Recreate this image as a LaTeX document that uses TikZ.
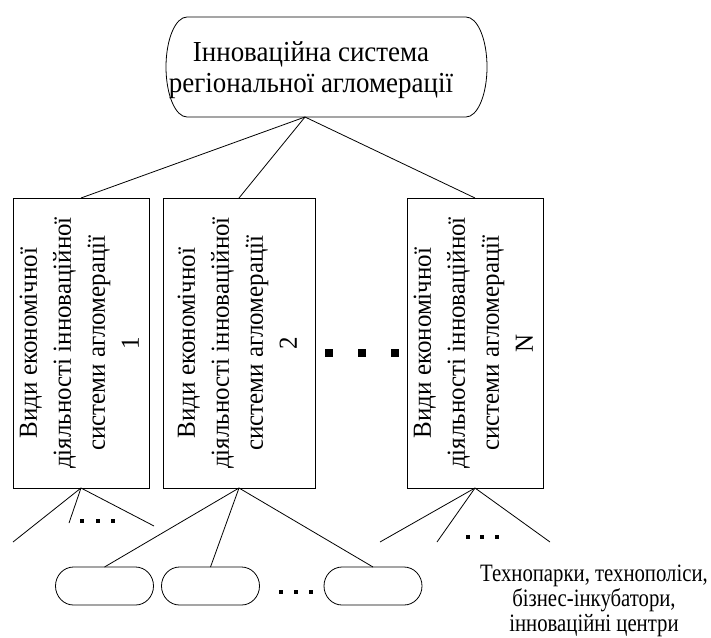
\documentclass[tikz,border=0pt]{standalone}
\usepackage{fontspec}
\setmainfont{Liberation Serif}
\newfontfamily\topfont[FakeStretch=0.93]{Liberation Serif}
\newfontfamily\boxfont[FakeStretch=0.96]{Liberation Serif}
\newfontfamily\labfont[FakeStretch=0.83]{Liberation Serif}
\usepackage{graphicx}
\newcommand\termdraw[3]{\draw[conn] ([xshift=#2]#1.north west) -- ([xshift=-#2]#1.north east) arc[start angle=90,end angle=-90,x radius=#2,y radius=#3] -- ([xshift=#2]#1.south west) arc[start angle=270,end angle=90,x radius=#2,y radius=#3] -- cycle;}
\newcommand\sqdot[3]{\fill ([xshift=-#3,yshift=-#3]#1,#2) rectangle ([xshift=#3,yshift=#3]#1,#2);}
\begin{document}
\begin{tikzpicture}[x=1pt,y=-1pt,
  every node/.style={inner sep=0pt, outer sep=0pt},
  conn/.style={line width=0.8pt, black},
  boxnode/.style={draw, line width=0.8pt, minimum width=#1, minimum height=290pt, font=\boxfont\fontsize{26}{34}\selectfont},
  topshape/.style={minimum width=321pt, minimum height=100pt},
  toptext/.style={align=center, font=\topfont\fontsize{29}{31}\selectfont},
  smallterm/.style={minimum width=98pt, minimum height=38pt},
  labeltext/.style={align=center, font=\labfont\fontsize{25}{25}\selectfont}
]
\useasboundingbox (0,0) rectangle (711,637);

% top node
\node[topshape] (topbox) at (326.5,67) {};
\termdraw{topbox}{21pt}{50pt}
\node[toptext] (top) at (311,70) {Інноваційна система\\регіональної агломерації};
\coordinate (apex) at (305,117);

% boxes
\node[boxnode=135pt] (b1) at (81,343) {\rotatebox{90}{\begin{tabular}{@{}c@{}}Види економічної\\діяльності інноваційної\\системи агломерації\\1\end{tabular}}};
\node[boxnode=152pt] (b2) at (239,343) {\rotatebox{90}{\begin{tabular}{@{}c@{}}Види економічної\\діяльності інноваційної\\системи агломерації\\2\end{tabular}}};
\node[boxnode=134pt] (bN) at (475,343) {\rotatebox{90}{\begin{tabular}{@{}c@{}}Види економічної\\діяльності інноваційної\\системи агломерації\\N\end{tabular}}};

\draw[conn] (apex) -- (b1.north);
\draw[conn] (apex) -- (b2.north);
\draw[conn] (apex) -- (bN.north);

% big dots between boxes
\sqdot{329}{353}{4.25pt}
\sqdot{362}{353}{4.25pt}
\sqdot{395}{353}{4.25pt}

% box 1 branches
\coordinate (e11) at (13,542);
\coordinate (e12) at (69,523);
\coordinate (e13) at (154,526);
\draw[conn] (b1.south) -- (e11);
\draw[conn] (b1.south) -- (e12);
\draw[conn] (b1.south) -- (e13);
\sqdot{82}{521}{2.2pt}
\sqdot{98}{521}{2.2pt}
\sqdot{113}{521}{2.2pt}

% bottom terminators
\node[smallterm] (t1) at (104.5,586) {};
\node[smallterm] (t2) at (210.5,586) {};
\node[smallterm] (t3) at (373,586) {};
\termdraw{t1}{18pt}{19pt}
\termdraw{t2}{18pt}{19pt}
\termdraw{t3}{18pt}{19pt}
\draw[conn] (b2.south) -- (t1.north);
\draw[conn] (b2.south) -- (t2.north);
\draw[conn] (b2.south) -- (t3.north);
\sqdot{281}{592}{2.2pt}
\sqdot{296}{592}{2.2pt}
\sqdot{311}{592}{2.2pt}

% box N branches
\coordinate (eN1) at (380,542);
\coordinate (eN2) at (437,542);
\coordinate (eN3) at (550,542);
\draw[conn] (bN.south) -- (eN1);
\draw[conn] (bN.south) -- (eN2);
\draw[conn] (bN.south) -- (eN3);
\sqdot{468}{537}{2.2pt}
\sqdot{482}{537}{2.2pt}
\sqdot{497}{537}{2.2pt}

% label
\node[labeltext] (lab) at (594,601) {Технопарки, технополіси,\\бізнес-інкубатори,\\інноваційні центри};
\end{tikzpicture}
\end{document}
